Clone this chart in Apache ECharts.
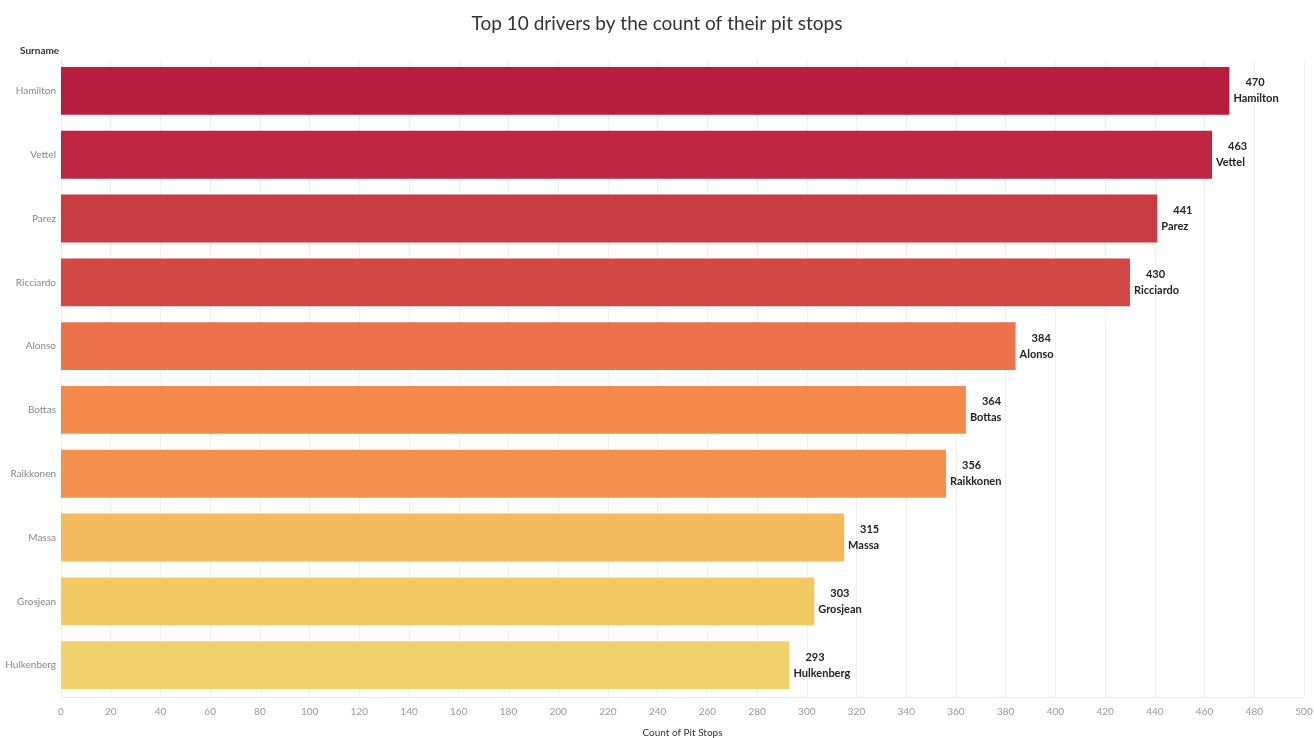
<!DOCTYPE html>
<html>
<head>
<meta charset="utf-8">
<script src="https://cdn.jsdelivr.net/npm/echarts@6/dist/echarts.min.js"></script>
<style>
  html, body { margin: 0; padding: 0; background: #fff; }
  #chart { width: 1314px; height: 738px; }
</style>
</head>
<body>
<div id="chart"></div>
<script>
// Drivers ordered from most to fewest pit stops
const drivers = ['Hamilton', 'Vettel', 'Parez', 'Ricciardo', 'Alonso', 'Bottas', 'Raikkonen', 'Massa', 'Grosjean', 'Hulkenberg'];
const pitStops = [470, 463, 441, 430, 384, 364, 356, 315, 303, 293];
const barColors = ['#B71E3E', '#BD2541', '#C93B42', '#D24845', '#EC724B', '#F5894C', '#F78F4E', '#F4B85D', '#F4C862', '#F1D26A'];
const xTicks = { min: 0, max: 500, interval: 20 };

const chart = echarts.init(document.getElementById('chart'));
const font = 'Lato, "Open Sans", sans-serif';

chart.setOption({
  animation: false,
  textStyle: { fontFamily: font },
  title: {
    text: 'Top 10 drivers by the count of their pit stops',
    left: 'center',
    top: 9,
    textStyle: { fontFamily: font, fontSize: 19, fontWeight: 'normal', color: '#333' }
  },
  graphic: [{
    type: 'text',
    left: 20,
    top: 46,
    style: { text: 'Surname', font: 'bold 10px ' + font, fill: '#333' }
  }],
  grid: { left: 61, right: 10, top: 59, bottom: 41, outerBoundsMode: 'none', containLabel: false },
  xAxis: {
    type: 'value',
    min: xTicks.min,
    max: xTicks.max,
    interval: xTicks.interval,
    name: 'Count of Pit Stops',
    nameLocation: 'middle',
    nameGap: 31,
    nameTextStyle: { fontSize: 10, color: '#333' },
    axisLine: { show: true, lineStyle: { color: '#eee' } },
    axisTick: { show: false },
    axisLabel: { fontSize: 10, color: '#999', margin: 10 },
    splitLine: { show: true, lineStyle: { color: '#f0f0f0' } }
  },
  yAxis: {
    type: 'category',
    data: drivers,
    inverse: true,
    axisLine: { show: true, lineStyle: { color: '#eee' } },
    axisTick: { show: false },
    axisLabel: { fontSize: 10, color: '#888', margin: 5 },
    splitLine: { show: false }
  },
  series: [{
    type: 'bar',
    data: pitStops.map((v, i) => ({ value: v, itemStyle: { color: barColors[i] } })),
    barCategoryGap: '25%',
    label: {
      show: true,
      position: 'right',
      distance: 4,
      align: 'left',
      fontSize: 11,
      fontWeight: 'bold',
      lineHeight: 16,
      color: '#222',
      formatter: p => '{v|' + p.value + '}\n' + p.name,
      rich: { v: { fontSize: 11, fontWeight: 'bold', lineHeight: 16, color: '#222', padding: [0, 0, 0, 12] } }
    }
  }]
});
</script>
</body>
</html>
